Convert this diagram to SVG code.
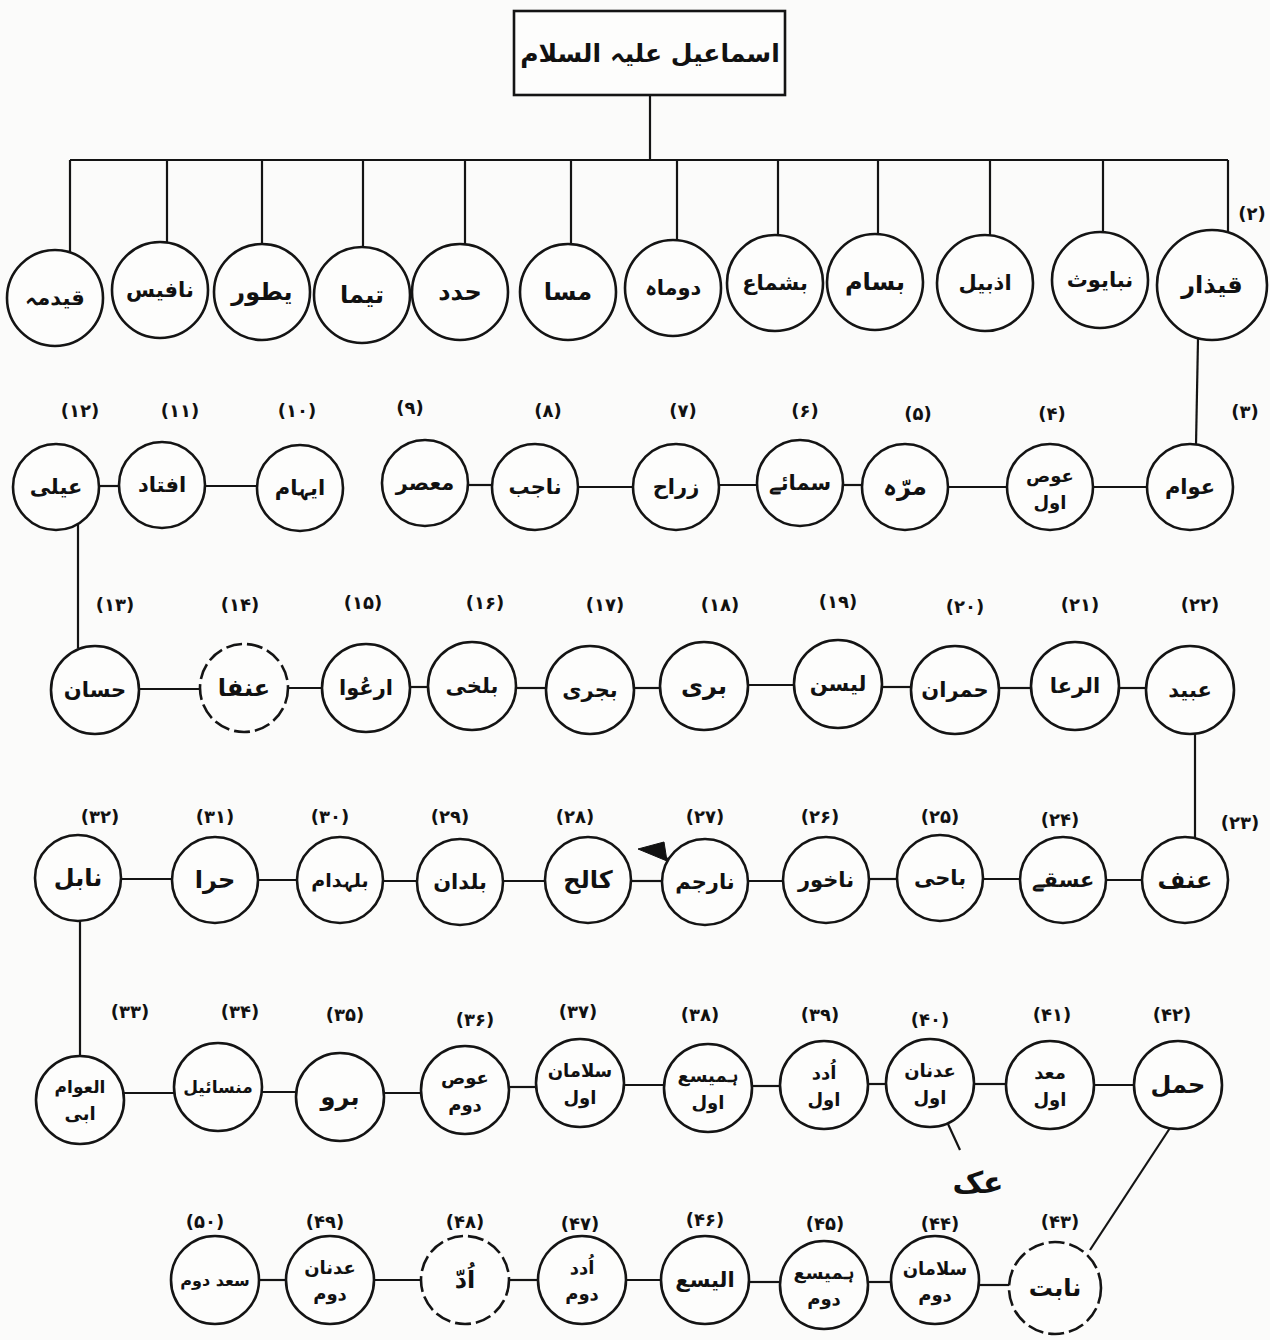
<svg xmlns="http://www.w3.org/2000/svg" width="1270" height="1340" viewBox="0 0 1270 1340">
<style>
.bg{fill:#fbfbfa}
.n circle{fill:#fdfdfc;stroke:#141414;stroke-width:2.6}
.n .d{stroke-dasharray:16 5}
.t{font-family:"DejaVu Sans","Noto Sans",sans-serif;font-weight:bold;font-size:24px;fill:#111;text-anchor:middle;dominant-baseline:central}
.s{font-size:18px}
.m{font-size:21px}
.lb{font-family:"DejaVu Sans","Noto Sans",sans-serif;font-weight:bold;font-size:18px;fill:#111;text-anchor:middle}
.c line,.c path{stroke:#141414;stroke-width:2.2;fill:none}
.box{fill:#fdfdfc;stroke:#141414;stroke-width:2.6}
</style>
<rect class="bg" x="0" y="0" width="1270" height="1340"/>

<g id="connectors" class="c">
<line x1="650" y1="95" x2="650" y2="160"/>
<line x1="70" y1="160" x2="1228" y2="160"/>
<line x1="70" y1="160" x2="70" y2="252"/>
<line x1="167" y1="160" x2="167" y2="243"/>
<line x1="262" y1="160" x2="262" y2="244"/>
<line x1="363" y1="160" x2="363" y2="247"/>
<line x1="465" y1="160" x2="465" y2="244"/>
<line x1="571" y1="160" x2="571" y2="244"/>
<line x1="677" y1="160" x2="677" y2="240"/>
<line x1="778" y1="160" x2="778" y2="235"/>
<line x1="878" y1="160" x2="878" y2="234"/>
<line x1="990" y1="160" x2="990" y2="235"/>
<line x1="1103" y1="160" x2="1103" y2="232"/>
<line x1="1228" y1="160" x2="1228" y2="232"/>
<line x1="1198" y1="339" x2="1196" y2="445"/>
<line x1="99" y1="486" x2="119" y2="486"/>
<line x1="205" y1="486" x2="257" y2="486"/>
<line x1="468" y1="485" x2="492" y2="485"/>
<line x1="578" y1="487" x2="633" y2="487"/>
<line x1="719" y1="485" x2="757" y2="485"/>
<line x1="843" y1="485" x2="862" y2="485"/>
<line x1="948" y1="487" x2="1007" y2="487"/>
<line x1="1093" y1="487" x2="1147" y2="487"/>
<line x1="78" y1="524" x2="78" y2="648"/>
<line x1="139" y1="689" x2="200" y2="689"/>
<line x1="288" y1="688" x2="322" y2="688"/>
<line x1="410" y1="687" x2="428" y2="687"/>
<line x1="516" y1="688" x2="546" y2="688"/>
<line x1="634" y1="688" x2="660" y2="688"/>
<line x1="748" y1="685" x2="794" y2="685"/>
<line x1="882" y1="687" x2="911" y2="687"/>
<line x1="999" y1="688" x2="1031" y2="688"/>
<line x1="1119" y1="688" x2="1146" y2="688"/>
<line x1="1195" y1="734" x2="1195" y2="838"/>
<line x1="121" y1="879" x2="172" y2="879"/>
<line x1="258" y1="880" x2="297" y2="880"/>
<line x1="383" y1="881" x2="417" y2="881"/>
<line x1="503" y1="881" x2="545" y2="881"/>
<line x1="631" y1="881" x2="662" y2="881"/>
<line x1="748" y1="881" x2="783" y2="881"/>
<line x1="869" y1="879" x2="897" y2="879"/>
<line x1="983" y1="879" x2="1020" y2="879"/>
<line x1="1106" y1="880" x2="1142" y2="880"/>
<line x1="80" y1="921" x2="80" y2="1056"/>
<line x1="124" y1="1093" x2="174" y2="1093"/>
<line x1="262" y1="1092" x2="296" y2="1092"/>
<line x1="384" y1="1093" x2="421" y2="1093"/>
<line x1="509" y1="1087" x2="536" y2="1087"/>
<line x1="624" y1="1085" x2="664" y2="1085"/>
<line x1="752" y1="1086" x2="780" y2="1086"/>
<line x1="868" y1="1084" x2="886" y2="1084"/>
<line x1="974" y1="1084" x2="1006" y2="1084"/>
<line x1="1094" y1="1085" x2="1134" y2="1085"/>
<line x1="948" y1="1124" x2="960" y2="1150"/>
<line x1="1170" y1="1128" x2="1090" y2="1250"/>
<line x1="259" y1="1280" x2="286" y2="1280"/>
<line x1="374" y1="1280" x2="421" y2="1280"/>
<line x1="509" y1="1280" x2="538" y2="1280"/>
<line x1="626" y1="1280" x2="661" y2="1280"/>
<line x1="749" y1="1282" x2="780" y2="1282"/>
<line x1="868" y1="1282" x2="891" y2="1282"/>
<line x1="979" y1="1285" x2="1011" y2="1285"/>
<path d="M664,857 L680,866"/>
<polygon points="638,849 664,842 667,861" fill="#111" stroke="#111" stroke-width="1"/>
</g>

<g id="ismail">
<rect class="box" x="514" y="11" width="271" height="84"/>
<text class="t" x="650" y="53" style="font-size:25px">اسماعیل علیہ السلام</text>
</g>

<g id="r1-12" class="n"><circle cx="55" cy="298" r="48"/><text class="t m" x="55" y="298">قیدمہ</text></g>
<g id="r1-11" class="n"><circle cx="160" cy="290" r="48"/><text class="t m" x="160" y="290">نافیس</text></g>
<g id="r1-10" class="n"><circle cx="262" cy="292" r="48"/><text class="t" x="262" y="292">یطور</text></g>
<g id="r1-9" class="n"><circle cx="362" cy="295" r="48"/><text class="t" x="362" y="295">تیما</text></g>
<g id="r1-8" class="n"><circle cx="460" cy="292" r="48"/><text class="t" x="460" y="292">حدد</text></g>
<g id="r1-7" class="n"><circle cx="568" cy="292" r="48"/><text class="t" x="568" y="292">مسا</text></g>
<g id="r1-6" class="n"><circle cx="673" cy="288" r="48"/><text class="t m" x="673" y="288">دوماہ</text></g>
<g id="r1-5" class="n"><circle cx="775" cy="283" r="48"/><text class="t m" x="775" y="283">بشماع</text></g>
<g id="r1-4" class="n"><circle cx="875" cy="282" r="48"/><text class="t" x="875" y="282">بسام</text></g>
<g id="r1-3" class="n"><circle cx="985" cy="283" r="48"/><text class="t m" x="985" y="283">اذبیل</text></g>
<g id="r1-2" class="n"><circle cx="1100" cy="280" r="48"/><text class="t m" x="1100" y="280">نبایوث</text></g>
<g id="n2" class="n"><circle cx="1212" cy="285" r="55"/><text class="t" x="1212" y="285">قیذار</text><text class="lb" x="1252" y="220">(۲)</text></g>

<g id="n3" class="n"><circle cx="1190" cy="487" r="43"/><text class="t m" x="1190" y="487">عوام</text><text class="lb" x="1245" y="418">(۳)</text></g>
<g id="n4" class="n"><circle cx="1050" cy="487" r="43"/><text class="t s" x="1050" y="475">عوص</text><text class="t s" x="1050" y="502">اول</text><text class="lb" x="1052" y="420">(۴)</text></g>
<g id="n5" class="n"><circle cx="905" cy="487" r="43"/><text class="t" x="905" y="487">مرّہ</text><text class="lb" x="918" y="420">(۵)</text></g>
<g id="n6" class="n"><circle cx="800" cy="483" r="43"/><text class="t m" x="800" y="483">سمائے</text><text class="lb" x="805" y="417">(۶)</text></g>
<g id="n7" class="n"><circle cx="676" cy="487" r="43"/><text class="t m" x="676" y="487">زراح</text><text class="lb" x="683" y="417">(۷)</text></g>
<g id="n8" class="n"><circle cx="535" cy="487" r="43"/><text class="t m" x="535" y="487">ناجب</text><text class="lb" x="548" y="417">(۸)</text></g>
<g id="n9" class="n"><circle cx="425" cy="483" r="43"/><text class="t m" x="425" y="483">معصر</text><text class="lb" x="410" y="414">(۹)</text></g>
<g id="n10" class="n"><circle cx="300" cy="488" r="43"/><text class="t m" x="300" y="488">ایہام</text><text class="lb" x="297" y="417">(۱۰)</text></g>
<g id="n11" class="n"><circle cx="162" cy="485" r="43"/><text class="t m" x="162" y="485">افتاد</text><text class="lb" x="180" y="417">(۱۱)</text></g>
<g id="n12" class="n"><circle cx="56" cy="487" r="43"/><text class="t m" x="56" y="487">عیلی</text><text class="lb" x="80" y="417">(۱۲)</text></g>

<g id="n13" class="n"><circle cx="95" cy="690" r="44"/><text class="t m" x="95" y="690">حسان</text><text class="lb" x="115" y="611">(۱۳)</text></g>
<g id="n14" class="n"><circle class="d" cx="244" cy="688" r="44"/><text class="t" x="244" y="688">عنفا</text><text class="lb" x="240" y="611">(۱۴)</text></g>
<g id="n15" class="n"><circle cx="366" cy="688" r="44"/><text class="t m" x="366" y="688">ارعُوا</text><text class="lb" x="363" y="609">(۱۵)</text></g>
<g id="n16" class="n"><circle cx="472" cy="686" r="44"/><text class="t m" x="472" y="686">بلخی</text><text class="lb" x="485" y="609">(۱۶)</text></g>
<g id="n17" class="n"><circle cx="590" cy="690" r="44"/><text class="t m" x="590" y="690">بجری</text><text class="lb" x="605" y="611">(۱۷)</text></g>
<g id="n18" class="n"><circle cx="704" cy="686" r="44"/><text class="t" x="704" y="686">بری</text><text class="lb" x="720" y="611">(۱۸)</text></g>
<g id="n19" class="n"><circle cx="838" cy="684" r="44"/><text class="t m" x="838" y="684">لیسن</text><text class="lb" x="838" y="608">(۱۹)</text></g>
<g id="n20" class="n"><circle cx="955" cy="690" r="44"/><text class="t m" x="955" y="690">حمران</text><text class="lb" x="965" y="613">(۲۰)</text></g>
<g id="n21" class="n"><circle cx="1075" cy="686" r="44"/><text class="t m" x="1075" y="686">الرعا</text><text class="lb" x="1080" y="611">(۲۱)</text></g>
<g id="n22" class="n"><circle cx="1190" cy="690" r="44"/><text class="t m" x="1190" y="690">عبید</text><text class="lb" x="1200" y="611">(۲۲)</text></g>

<g id="n23" class="n"><circle cx="1185" cy="880" r="43"/><text class="t" x="1185" y="880">عنف</text><text class="lb" x="1240" y="829">(۲۳)</text></g>
<g id="n24" class="n"><circle cx="1063" cy="880" r="43"/><text class="t m" x="1063" y="880">عسقے</text><text class="lb" x="1060" y="826">(۲۴)</text></g>
<g id="n25" class="n"><circle cx="940" cy="878" r="43"/><text class="t m" x="940" y="878">باحی</text><text class="lb" x="940" y="823">(۲۵)</text></g>
<g id="n26" class="n"><circle cx="826" cy="880" r="43"/><text class="t m" x="826" y="880">ناخور</text><text class="lb" x="820" y="823">(۲۶)</text></g>
<g id="n27" class="n"><circle cx="705" cy="882" r="43"/><text class="t m" x="705" y="882">نارجم</text><text class="lb" x="705" y="823">(۲۷)</text></g>
<g id="n28" class="n"><circle cx="588" cy="880" r="43"/><text class="t" x="588" y="880">کالح</text><text class="lb" x="575" y="823">(۲۸)</text></g>
<g id="n29" class="n"><circle cx="460" cy="882" r="43"/><text class="t m" x="460" y="882">بلدان</text><text class="lb" x="450" y="823">(۲۹)</text></g>
<g id="n30" class="n"><circle cx="340" cy="880" r="43"/><text class="t" x="340" y="880" style="font-size:19px">بلہدام</text><text class="lb" x="330" y="823">(۳۰)</text></g>
<g id="n31" class="n"><circle cx="215" cy="880" r="43"/><text class="t" x="215" y="880">حرا</text><text class="lb" x="215" y="823">(۳۱)</text></g>
<g id="n32" class="n"><circle cx="78" cy="878" r="43"/><text class="t" x="78" y="878">نابل</text><text class="lb" x="100" y="823">(۳۲)</text></g>

<g id="n33" class="n"><circle cx="80" cy="1100" r="44"/><text class="t s" x="80" y="1087" style="font-size:17px">العوام</text><text class="t s" x="80" y="1113">ابی</text><text class="lb" x="130" y="1018">(۳۳)</text></g>
<g id="n34" class="n"><circle cx="218" cy="1087" r="44"/><text class="t" x="218" y="1087" style="font-size:17px">منسائیل</text><text class="lb" x="240" y="1018">(۳۴)</text></g>
<g id="n35" class="n"><circle cx="340" cy="1097" r="44"/><text class="t" x="340" y="1097">برو</text><text class="lb" x="345" y="1021">(۳۵)</text></g>
<g id="n36" class="n"><circle cx="465" cy="1090" r="44"/><text class="t s" x="465" y="1077">عوص</text><text class="t s" x="465" y="1104">دوم</text><text class="lb" x="475" y="1026">(۳۶)</text></g>
<g id="n37" class="n"><circle cx="580" cy="1083" r="44"/><text class="t s" x="580" y="1070">سلامان</text><text class="t s" x="580" y="1097">اول</text><text class="lb" x="578" y="1018">(۳۷)</text></g>
<g id="n38" class="n"><circle cx="708" cy="1088" r="44"/><text class="t s" x="708" y="1075">ہمیسع</text><text class="t s" x="708" y="1102">اول</text><text class="lb" x="700" y="1021">(۳۸)</text></g>
<g id="n39" class="n"><circle cx="824" cy="1085" r="44"/><text class="t s" x="824" y="1072">اُدد</text><text class="t s" x="824" y="1099">اول</text><text class="lb" x="820" y="1021">(۳۹)</text></g>
<g id="n40" class="n"><circle cx="930" cy="1083" r="44"/><text class="t s" x="930" y="1070">عدنان</text><text class="t s" x="930" y="1097">اول</text><text class="lb" x="930" y="1026">(۴۰)</text></g>
<g id="n41" class="n"><circle cx="1050" cy="1085" r="44"/><text class="t s" x="1050" y="1072">معد</text><text class="t s" x="1050" y="1099">اول</text><text class="lb" x="1052" y="1021">(۴۱)</text></g>
<g id="n42" class="n"><circle cx="1178" cy="1085" r="44"/><text class="t" x="1178" y="1085">حمل</text><text class="lb" x="1172" y="1021">(۴۲)</text></g>
<g id="ak"><text class="t" x="978" y="1182" style="font-size:30px">عک</text></g>

<g id="n43" class="n"><circle class="d" cx="1055" cy="1288" r="46"/><text class="t" x="1055" y="1288">نابت</text><text class="lb" x="1060" y="1228">(۴۳)</text></g>
<g id="n44" class="n"><circle cx="935" cy="1280" r="44"/><text class="t s" x="935" y="1268">سلامان</text><text class="t s" x="935" y="1294">دوم</text><text class="lb" x="940" y="1230">(۴۴)</text></g>
<g id="n45" class="n"><circle cx="824" cy="1285" r="44"/><text class="t s" x="824" y="1272">ہمیسع</text><text class="t s" x="824" y="1298">دوم</text><text class="lb" x="825" y="1230">(۴۵)</text></g>
<g id="n46" class="n"><circle cx="705" cy="1280" r="44"/><text class="t m" x="705" y="1280">الیسع</text><text class="lb" x="705" y="1226">(۴۶)</text></g>
<g id="n47" class="n"><circle cx="582" cy="1280" r="44"/><text class="t s" x="582" y="1267">اُدد</text><text class="t s" x="582" y="1293">دوم</text><text class="lb" x="580" y="1230">(۴۷)</text></g>
<g id="n48" class="n"><circle class="d" cx="465" cy="1280" r="44"/><text class="t" x="465" y="1280">اُدّ</text><text class="lb" x="465" y="1228">(۴۸)</text></g>
<g id="n49" class="n"><circle cx="330" cy="1280" r="44"/><text class="t s" x="330" y="1267">عدنان</text><text class="t s" x="330" y="1293">دوم</text><text class="lb" x="325" y="1228">(۴۹)</text></g>
<g id="n50" class="n"><circle cx="215" cy="1280" r="44"/><text class="t" x="215" y="1280" style="font-size:16px">سعد دوم</text><text class="lb" x="205" y="1228">(۵۰)</text></g>
</svg>
